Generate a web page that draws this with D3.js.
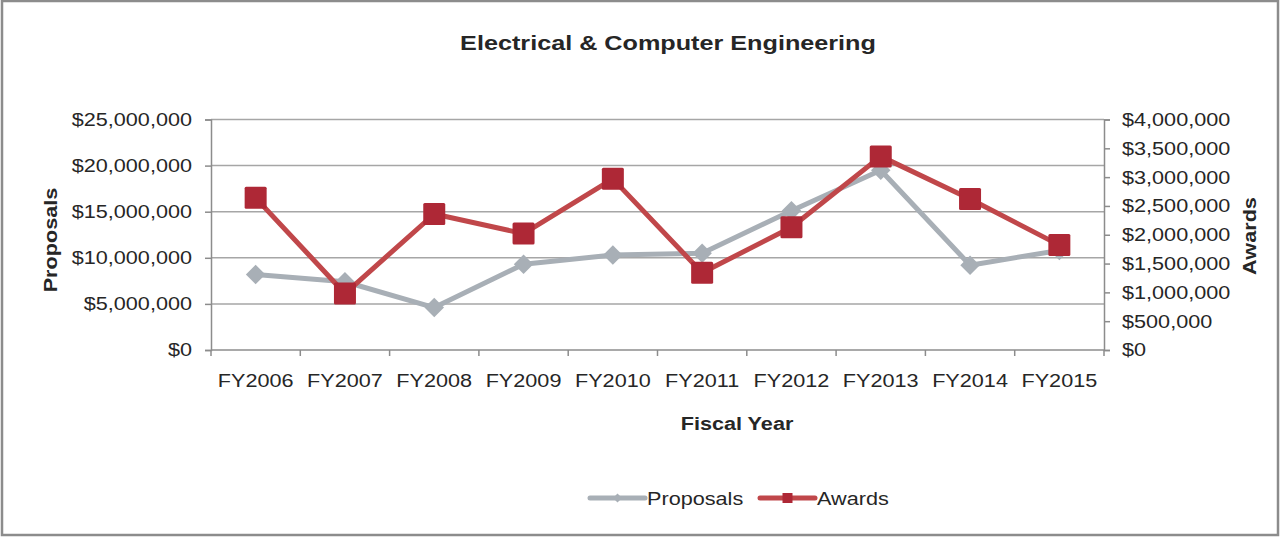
<!DOCTYPE html>
<html>
<head>
<meta charset="utf-8">
<script src="https://cdn.jsdelivr.net/npm/d3@7"></script>
<style>
  body { margin: 0; background: #fff; }
  text { font-family: "Liberation Sans", Arial, sans-serif; fill: #262626; }
</style>
</head>
<body>
<script>
// chart values
var years = ["FY2006","FY2007","FY2008","FY2009","FY2010","FY2011","FY2012","FY2013","FY2014","FY2015"];
var proposals = [8200000, 7400000, 4600000, 9300000, 10300000, 10500000, 15100000, 19500000, 9200000, 10800000];
var awards = [2640000, 980000, 2360000, 2020000, 2970000, 1340000, 2130000, 3360000, 2620000, 1820000];
var leftTicks = [0, 5000000, 10000000, 15000000, 20000000, 25000000];
var rightTicks = [0, 500000, 1000000, 1500000, 2000000, 2500000, 3000000, 3500000, 4000000];

var width = 1283, height = 537;
var plotLeft = 211, plotRight = 1104, plotTop = 119.5, plotBottom = 350;
var wide = 1.17; // the original text renders a bit wider than Liberation Sans

var svg = d3.select("body").append("svg")
    .attr("width", width)
    .attr("height", height);

// stretch text horizontally around its anchor
function stretch(sel, s){
  sel.each(function(){
    var t = d3.select(this);
    var tx = +t.attr("x") || 0, ty = +t.attr("y") || 0;
    t.attr("x", 0).attr("y", 0)
     .attr("transform", "translate(" + tx + "," + ty + ") scale(" + s + ",1)");
  });
}

// outer border
svg.append("rect")
    .attr("x", 2).attr("y", 1)
    .attr("width", 1276).attr("height", 534)
    .attr("fill", "#fff")
    .attr("stroke", "#8c8c8c")
    .attr("stroke-width", 2.5);

var x = d3.scaleBand().domain(years).range([plotLeft, plotRight]);
var yL = d3.scaleLinear().domain([0, 25000000]).range([plotBottom, plotTop]);
var yR = d3.scaleLinear().domain([0, 4000000]).range([plotBottom, plotTop]);
var money = d3.format("$,");

// gridlines
svg.append("g").selectAll("line")
    .data(leftTicks.slice(1))
    .enter().append("line")
    .attr("x1", plotLeft).attr("x2", plotRight)
    .attr("y1", function(d){ return yL(d); })
    .attr("y2", function(d){ return yL(d); })
    .attr("stroke", "#a6a6a6")
    .attr("stroke-width", 1.5);

// left axis
var gL = svg.append("g")
    .attr("transform", "translate(" + plotLeft + ",0)")
    .call(d3.axisLeft(yL).tickValues(leftTicks).tickFormat(money).tickSize(6).tickPadding(13));
// right axis
var gR = svg.append("g")
    .attr("transform", "translate(" + plotRight + ",0)")
    .call(d3.axisRight(yR).tickValues(rightTicks).tickFormat(money).tickSize(6).tickPadding(12));
// bottom axis
var gB = svg.append("g")
    .attr("transform", "translate(0," + plotBottom + ")")
    .call(d3.axisBottom(x).tickSize(0).tickPadding(24));
gB.selectAll(".tick").append("line")
    .attr("x1", -x.bandwidth()/2).attr("x2", -x.bandwidth()/2)
    .attr("y1", 0).attr("y2", 6)
    .attr("stroke", "#8c8c8c").attr("stroke-width", 1.5);
gB.append("line")
    .attr("x1", plotRight).attr("x2", plotRight)
    .attr("y1", 0).attr("y2", 6)
    .attr("stroke", "#8c8c8c").attr("stroke-width", 1.5);

[gL, gR, gB].forEach(function(g){
  g.select(".domain").attr("stroke", "#8c8c8c").attr("stroke-width", 1.5);
  g.selectAll(".tick line").attr("stroke", "#8c8c8c").attr("stroke-width", 1.5);
  g.selectAll("text")
    .attr("font-family", "Liberation Sans, Arial, sans-serif")
    .attr("font-size", 18.5)
    .attr("fill", "#262626")
    .call(stretch, wide);
});
gB.select(".domain").attr("d", "M" + plotLeft + ",0H" + plotRight);

// series lines
var lineP = d3.line()
    .x(function(d, i){ return x(years[i]) + x.bandwidth()/2; })
    .y(function(d){ return yL(d); });
var lineA = d3.line()
    .x(function(d, i){ return x(years[i]) + x.bandwidth()/2; })
    .y(function(d){ return yR(d); });

svg.append("path")
    .datum(proposals)
    .attr("d", lineP)
    .attr("fill", "none")
    .attr("stroke", "#a8afb6")
    .attr("stroke-width", 5)
    .attr("stroke-linejoin", "round");

svg.append("g").selectAll("path")
    .data(proposals)
    .enter().append("path")
    .attr("d", d3.symbol().type(d3.symbolSquare).size(190))
    .attr("transform", function(d, i){
      return "translate(" + (x(years[i]) + x.bandwidth()/2) + "," + yL(d) + ") rotate(45)";
    })
    .attr("fill", "#a8afb6");

svg.append("path")
    .datum(awards)
    .attr("d", lineA)
    .attr("fill", "none")
    .attr("stroke", "#c0474a")
    .attr("stroke-width", 5)
    .attr("stroke-linejoin", "round");

svg.append("g").selectAll("rect")
    .data(awards)
    .enter().append("rect")
    .attr("x", function(d, i){ return x(years[i]) + x.bandwidth()/2 - 11; })
    .attr("y", function(d){ return yR(d) - 11; })
    .attr("width", 22).attr("height", 22)
    .attr("rx", 1.5)
    .attr("fill", "#ae2836");

// title and axis titles
svg.append("text")
    .attr("transform", "translate(668,50) scale(1.2,1)")
    .attr("text-anchor", "middle")
    .attr("font-size", 21).attr("font-weight", "bold")
    .attr("fill", "#000")
    .text("Electrical & Computer Engineering");

svg.append("text")
    .attr("transform", "translate(57,240) rotate(-90) scale(" + wide + ",1)")
    .attr("text-anchor", "middle")
    .attr("font-size", 18.5).attr("font-weight", "bold")
    .attr("fill", "#000")
    .text("Proposals");

svg.append("text")
    .attr("transform", "translate(1256,236) rotate(-90) scale(" + wide + ",1)")
    .attr("text-anchor", "middle")
    .attr("font-size", 18.5).attr("font-weight", "bold")
    .attr("fill", "#000")
    .text("Awards");

svg.append("text")
    .attr("transform", "translate(737,430) scale(" + wide + ",1)")
    .attr("text-anchor", "middle")
    .attr("font-size", 18.5).attr("font-weight", "bold")
    .attr("fill", "#000")
    .text("Fiscal Year");

// legend
var legend = [
  {name: "Proposals", x0: 590, stroke: "#a8afb6", fill: "#a8afb6", shape: "diamond"},
  {name: "Awards", x0: 760, stroke: "#c0474a", fill: "#ae2836", shape: "square"}
];
var lg = svg.append("g").selectAll("g")
    .data(legend)
    .enter().append("g")
    .attr("transform", function(d){ return "translate(" + d.x0 + ",498)"; });
lg.append("line")
    .attr("x1", 0).attr("x2", 55)
    .attr("stroke", function(d){ return d.stroke; })
    .attr("stroke-width", 5)
    .attr("stroke-linecap", "round");
lg.append("path")
    .attr("d", function(d){
      return d3.symbol().type(d3.symbolSquare).size(d.shape == "diamond" ? 40 : 100)();
    })
    .attr("transform", function(d){
      return "translate(27.5,0)" + (d.shape == "diamond" ? " rotate(45)" : "");
    })
    .attr("fill", function(d){ return d.fill; });
lg.append("text")
    .attr("transform", "translate(57,7) scale(" + wide + ",1)")
    .attr("font-size", 18.5)
    .attr("fill", "#262626")
    .text(function(d){ return d.name; });
</script>
</body>
</html>
